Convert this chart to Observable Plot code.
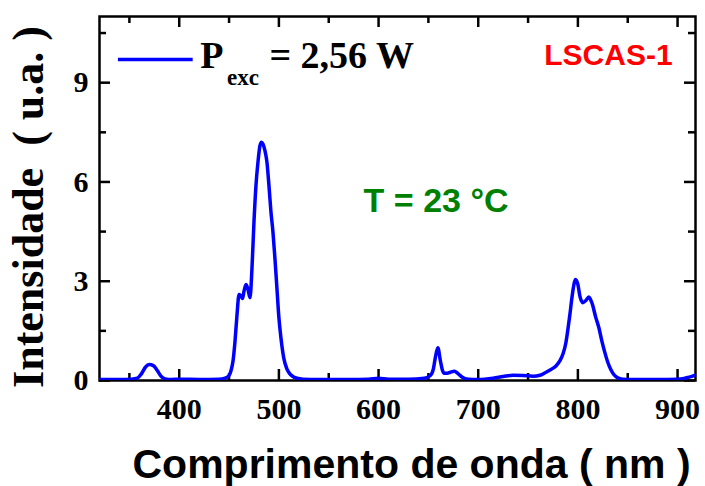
<!DOCTYPE html>
<html><head><meta charset="utf-8">
<script src="https://cdn.jsdelivr.net/npm/d3@7"></script>
<script src="https://cdn.jsdelivr.net/npm/@observablehq/plot@0.6"></script>
<style>body{margin:0;background:#fff} svg{display:block;background:#fff}</style>
</head><body><div id="chart"></div>
<script>
// Spectrum (wavelength in nm, intensity in a.u.)
const wavelength = [320,340,352,358,362,366,370,374,378,382,386,392,400,420,440,446,450,452,454,456,458,460,462,463.5,465,467,469,471,473,475,477,479,481,482.5,484,486,488,490,492,494,496,498,500,502,505,508,511,514,518,524,540,570,590,600,610,630,646,652,655,657,659.5,662,664,666,669,672,676,680,684,690,700,715,725,735,745,755,762,768,774,778,782,785,788,790,792,794,796,797.5,800,802,805,808,811,814,818,821,824,827,830,833,836,840,845,855,880,900,905,910,915,918];
const intensity = [0.03,0.03,0.04,0.07,0.2,0.4,0.48,0.45,0.3,0.12,0.05,0.03,0.04,0.03,0.04,0.07,0.15,0.3,0.6,1.2,2.0,2.6,2.55,2.48,2.7,2.9,2.75,2.5,3.4,4.8,5.9,6.6,7.1,7.2,7.15,6.95,6.6,5.9,5.1,4.5,3.7,2.8,1.9,1.3,0.66,0.35,0.2,0.12,0.07,0.04,0.03,0.03,0.04,0.07,0.04,0.04,0.07,0.15,0.35,0.7,0.99,0.6,0.32,0.22,0.22,0.25,0.28,0.2,0.1,0.04,0.03,0.07,0.12,0.16,0.15,0.13,0.16,0.25,0.35,0.44,0.6,0.8,1.15,1.55,2.0,2.5,2.9,3.05,2.9,2.55,2.35,2.42,2.52,2.35,1.9,1.6,1.2,0.85,0.55,0.33,0.18,0.08,0.04,0.03,0.03,0.04,0.05,0.09,0.13,0.16];

const xMajorTicks = [400,500,600,700,800,900];
const xMinorTicks = [350,450,550,650,750,850];
const yMajorTicks = [0,3,6,9];
const yMinorTicks = [1.5,4.5,7.5,10.5];

const xTitle = "Comprimento de onda ( nm )";
const yTitle = "Intensidade  ( u.a. )";
const legendMain = "P";
const legendSub = "exc";
const legendValue = "= 2,56 W";
const sampleLabel = "LSCAS-1";
const tempLabel = "T = 23 °C";

// annotation anchors in data coordinates
const legendLine = [{x1: 339, x2: 414, y: 9.7}];
const legendMainPos = [{x: 421, y: 9.43}];
const legendSubPos = [{x: 448, y: 8.93}];
const legendValuePos = [{x: 490.5, y: 9.43}];
const samplePos = [{x: 895, y: 9.52}];
const tempPos = [{x: 585, y: 5.08}];

const spectrum = wavelength.map((w, i) => ({w, v: intensity[i]}));
const serif = "'Liberation Serif','Times New Roman',serif";
const sans = "'Liberation Sans',Arial,sans-serif";
const frameW = 596, frameH = 364, tickW = 2.5, majorLen = 11, minorLen = 7;

const tick = {stroke: "black", strokeWidth: tickW};

const chart = Plot.plot({
  width: 705, height: 486,
  marginLeft: 99, marginRight: 10, marginTop: 16, marginBottom: 106,
  x: {domain: [320, 918]},
  y: {domain: [0, 11]},
  style: {background: "white", color: "black"},
  marks: [
    Plot.axisX({ticks: xMajorTicks, tickSize: 0, tickPadding: 17, fontSize: 30, fontWeight: "bold", fontFamily: serif, tickFormat: d => String(d), label: null}),
    Plot.axisY({ticks: yMajorTicks, tickSize: 0, tickPadding: 11, fontSize: 30, fontWeight: "bold", fontFamily: serif, tickFormat: d => String(d), label: null}),
    // inward ticks on all four sides
    Plot.ruleX(xMajorTicks, {...tick, insetTop: frameH - majorLen}),
    Plot.ruleX(xMinorTicks, {...tick, insetTop: frameH - minorLen}),
    Plot.ruleX(xMajorTicks, {...tick, insetBottom: frameH - majorLen}),
    Plot.ruleX(xMinorTicks, {...tick, insetBottom: frameH - minorLen}),
    Plot.ruleY(yMajorTicks, {...tick, insetRight: frameW - majorLen}),
    Plot.ruleY(yMinorTicks, {...tick, insetRight: frameW - minorLen}),
    Plot.ruleY(yMajorTicks, {...tick, insetLeft: frameW - majorLen}),
    Plot.ruleY(yMinorTicks, {...tick, insetLeft: frameW - minorLen}),
    Plot.frame({stroke: "black", strokeWidth: 2.5}),
    Plot.line(spectrum, {x: "w", y: "v", stroke: "#0000ff", strokeWidth: 3.5, curve: "monotone-x", clip: true}),
    // legend
    Plot.ruleY(legendLine, {y: "y", x1: "x1", x2: "x2", stroke: "#0000ff", strokeWidth: 3.5}),
    Plot.text(legendMainPos, {x: "x", y: "y", text: () => legendMain, textAnchor: "start", lineAnchor: "bottom", fontSize: 38, fontWeight: "bold", fontFamily: serif, fill: "black"}),
    Plot.text(legendSubPos, {x: "x", y: "y", text: () => legendSub, textAnchor: "start", lineAnchor: "bottom", fontSize: 23, fontWeight: "bold", fontFamily: serif, fill: "black"}),
    Plot.text(legendValuePos, {x: "x", y: "y", text: () => legendValue, textAnchor: "start", lineAnchor: "bottom", fontSize: 38, fontWeight: "bold", fontFamily: serif, fill: "black"}),
    Plot.text(samplePos, {x: "x", y: "y", text: () => sampleLabel, textAnchor: "end", lineAnchor: "bottom", fontSize: 30, fontWeight: "bold", fontFamily: sans, fill: "#ff0000"}),
    Plot.text(tempPos, {x: "x", y: "y", text: () => tempLabel, textAnchor: "start", lineAnchor: "bottom", fontSize: 34, fontWeight: "bold", fontFamily: sans, fill: "#008000"}),
    // axis titles
    Plot.text([xTitle], {frameAnchor: "bottom", dx: 14, dy: 97, lineAnchor: "bottom", textAnchor: "middle", fontSize: 41, fontWeight: "bold", fontFamily: sans, fill: "black"}),
    Plot.text([yTitle], {frameAnchor: "left", rotate: -90, dx: -57, dy: 8.5, lineAnchor: "bottom", textAnchor: "middle", fontSize: 44, fontWeight: "bold", fontFamily: serif, fill: "black"})
  ]
});
document.getElementById("chart").appendChild(chart);
</script>
</body></html>
